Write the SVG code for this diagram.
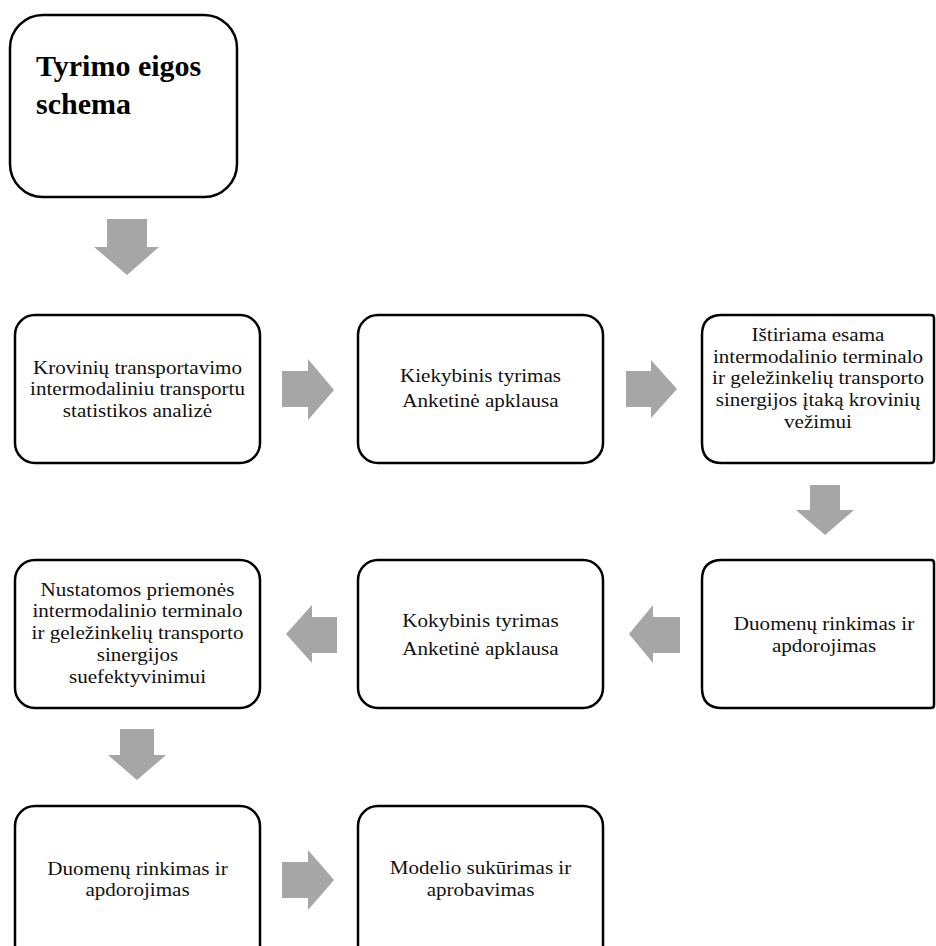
<svg xmlns="http://www.w3.org/2000/svg" width="936" height="946" viewBox="0 0 936 946">
<style>
.box{fill:#fff;stroke:#000;stroke-width:2.5}
.t{font-family:"Liberation Serif","Times New Roman",serif;font-size:19px;fill:#111;text-anchor:middle}
.title{font-family:"Liberation Serif","Times New Roman",serif;font-size:30px;font-weight:bold;fill:#000}
.arr{fill:#a6a6a6}
</style>
<rect width="936" height="946" fill="#fff"/>
<g id="title">
<rect class="box" x="10" y="15" width="227" height="182" rx="33"/>
<text class="title" x="36" y="76">Tyrimo eigos</text>
<text class="title" x="36" y="114">schema</text>
</g>
<g id="n1">
<rect class="box" x="15" y="315" width="245" height="148" rx="20"/>
<g transform="translate(137.5,0) scale(1.11,1)">
<text class="t" x="0" y="374">Krovinių transportavimo</text>
<text class="t" x="0" y="395.5">intermodaliniu transportu</text>
<text class="t" x="0" y="417">statistikos analizė</text>
</g>
</g>
<g id="n2">
<rect class="box" x="358" y="315" width="245" height="148" rx="20"/>
<g transform="translate(480.5,0) scale(1.11,1)">
<text class="t" x="0" y="382">Kiekybinis tyrimas</text>
<text class="t" x="0" y="407">Anketinė apklausa</text>
</g>
</g>
<g id="n3">
<path class="box" d="M722,315 H931 Q934,315 934,318 V460 Q934,463 931,463 H722 Q702,463 702,443 V335 Q702,315 722,315 Z"/>
<g transform="translate(818,0) scale(1.11,1)">
<text class="t" x="0" y="341.5">Ištiriama esama</text>
<text class="t" x="0" y="363">intermodalinio terminalo</text>
<text class="t" x="0" y="384.5">ir geležinkelių transporto</text>
<text class="t" x="0" y="406">sinergijos įtaką krovinių</text>
<text class="t" x="0" y="427.5">vežimui</text>
</g>
</g>
<g id="n4">
<rect class="box" x="15" y="560" width="245" height="148" rx="20"/>
<g transform="translate(137.5,0) scale(1.11,1)">
<text class="t" x="0" y="596">Nustatomos priemonės</text>
<text class="t" x="0" y="617.5">intermodalinio terminalo</text>
<text class="t" x="0" y="639">ir geležinkelių transporto</text>
<text class="t" x="0" y="661">sinergijos</text>
<text class="t" x="0" y="683">suefektyvinimui</text>
</g>
</g>
<g id="n5">
<rect class="box" x="358" y="560" width="245" height="148" rx="20"/>
<g transform="translate(480.5,0) scale(1.11,1)">
<text class="t" x="0" y="627">Kokybinis tyrimas</text>
<text class="t" x="0" y="655">Anketinė apklausa</text>
</g>
</g>
<g id="n6">
<path class="box" d="M722,560 H931 Q934,560 934,563 V705 Q934,708 931,708 H722 Q702,708 702,688 V580 Q702,560 722,560 Z"/>
<g transform="translate(824,0) scale(1.11,1)">
<text class="t" x="0" y="630">Duomenų rinkimas ir</text>
<text class="t" x="0" y="652">apdorojimas</text>
</g>
</g>
<g id="n7">
<rect class="box" x="15" y="806" width="245" height="160" rx="20"/>
<g transform="translate(137.5,0) scale(1.11,1)">
<text class="t" x="0" y="875">Duomenų rinkimas ir</text>
<text class="t" x="0" y="896.5">apdorojimas</text>
</g>
</g>
<g id="n8">
<rect class="box" x="358" y="806" width="245" height="160" rx="20"/>
<g transform="translate(480.5,0) scale(1.11,1)">
<text class="t" x="0" y="874">Modelio sukūrimas ir</text>
<text class="t" x="0" y="896">aprobavimas</text>
</g>
</g>
<g id="connectors">
<polygon class="arr" points="107,219 147,219 147,247 159,247 127,275 94,247 107,247"/>
<polygon class="arr" points="282,371 308,371 308,359 334,390 308,420 308,407 282,407"/>
<polygon class="arr" points="626,371 651,371 651,360 677,389 651,418 651,407 626,407"/>
<polygon class="arr" points="810,485 840,485 840,510 854,510 825,535 796,510 810,510"/>
<polygon class="arr" points="680,617 653,617 653,605 629,634 653,663 653,653 680,653"/>
<polygon class="arr" points="337,617 312,617 312,605 286,634 312,663 312,653 337,653"/>
<polygon class="arr" points="120,729 154,729 154,755 166,755 137,780 108,755 120,755"/>
<polygon class="arr" points="282,862 308,862 308,850 334,880 308,910 308,898 282,898"/>
</g>
</svg>
